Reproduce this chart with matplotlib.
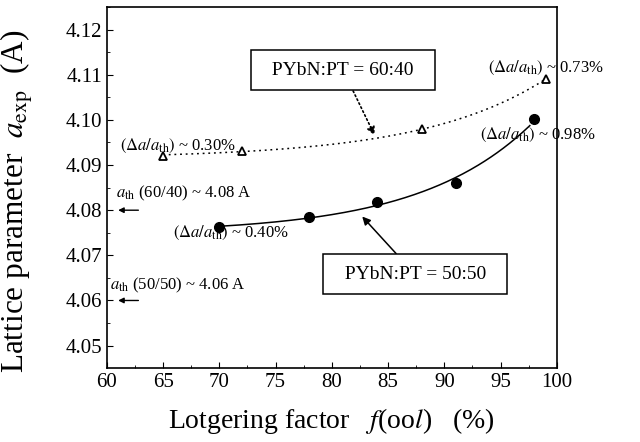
import numpy as np
import matplotlib
matplotlib.use("Agg")
import matplotlib.pyplot as plt

plt.rcParams['font.family'] = ['Liberation Serif', 'DejaVu Serif']
plt.rcParams['mathtext.fontset'] = 'stix'

# PYbN:PT = 50:50 (solid circles)
f_5050 = [70, 78, 84, 91, 98]
a_5050 = [4.0762, 4.0785, 4.0819, 4.0860, 4.1001]

# PYbN:PT = 60:40 (open triangles)
f_6040 = [65, 72, 88, 99]
a_6040 = [4.0921, 4.0931, 4.0980, 4.1090]


def exp_fit(x, y, tau):
    # least squares for y = c0 + c1 * exp((x - 100) / tau)
    x = np.asarray(x, float)
    A = np.column_stack([np.ones_like(x), np.exp((x - 100) / tau)])
    c, *_ = np.linalg.lstsq(A, np.asarray(y), rcond=None)
    return lambda t: c[0] + c[1] * np.exp((t - 100) / tau)


fig = plt.figure(figsize=(6.4, 4.42), dpi=100)
ax = fig.add_axes([0.167, 0.167, 0.703, 0.817])

fit1 = exp_fit(f_5050, a_5050, 10.0)
xs1 = np.linspace(70, 97.6, 200)
ax.plot(xs1, fit1(xs1), color='black', lw=1.1)
fit2 = exp_fit(f_6040, a_6040, 11.0)
xs2 = np.linspace(65, 99, 200)
ax.plot(xs2, fit2(xs2), color='black', lw=1.1, ls=(0, (1.2, 2.5)))

ax.plot(f_5050, a_5050, 'o', color='black', ms=7)
ax.plot(f_6040, a_6040, '^', mfc='white', mec='black', mew=1.3, ms=5.5)

ax.set_xlim(60, 100)
ax.set_ylim(4.045, 4.125)
ax.set_xticks(np.arange(60, 101, 5))
yt = np.arange(4.05, 4.121, 0.01)
ax.set_yticks(yt)
ax.set_yticklabels([f"{v:.2f}" for v in yt])
ax.set_xticks(np.arange(62.5, 100, 5), minor=True)
ax.set_yticks(np.arange(4.055, 4.125, 0.01), minor=True)
ax.tick_params(which='both', direction='in', labelsize=15, top=False, right=False)
ax.tick_params(which='major', length=4)
ax.tick_params(which='minor', length=2)
for s in ax.spines.values():
    s.set_linewidth(1.2)

ax.set_xlabel(r'Lotgering factor   $f$(oo$l$)   (%)', fontsize=20, labelpad=10)
ax.set_ylabel(r'Lattice parameter  $a_{\rm exp}$  (A)', fontsize=22.5)
ax.yaxis.set_label_coords(-0.16, 0.463)

box = dict(boxstyle='square,pad=0.6', fc='white', ec='black', lw=1.1)
ax.annotate('  PYbN:PT = 60:40  ', xy=(83.8, 4.0966), xytext=(81.0, 4.1110),
            fontsize=14, ha='center', va='center', bbox=box,
            arrowprops=dict(arrowstyle='-|>', ls=':', lw=1.2, color='black',
                            shrinkA=0, shrinkB=0, mutation_scale=12))
ax.annotate('  PYbN:PT = 50:50  ', xy=(82.7, 4.0786), xytext=(87.4, 4.0658),
            fontsize=14, ha='center', va='center', bbox=box,
            arrowprops=dict(arrowstyle='-|>', lw=1.1, color='black',
                            shrinkA=0, shrinkB=0, mutation_scale=12))

ds = r'$(\Delta a/a_{\rm th})$'
ax.text(61.2, 4.0943, ds + ' ~ 0.30%', fontsize=12, va='center')
ax.text(93.9, 4.1115, ds + ' ~ 0.73%', fontsize=12, va='center')
ax.text(93.2, 4.0966, ds + ' ~ 0.98%', fontsize=12, va='center')
ax.text(65.9, 4.0750, ds + ' ~ 0.40%', fontsize=12, va='center')
ax.text(60.8, 4.0838, r'$a_{\rm th}$ (60/40) ~ 4.08 A', fontsize=12, va='center')
ax.text(60.3, 4.0634, r'$a_{\rm th}$ (50/50) ~ 4.06 A', fontsize=12, va='center')
for yv in [4.08, 4.06]:
    ax.annotate('', xy=(61.0, yv), xytext=(62.8, yv),
                arrowprops=dict(arrowstyle='-|>', lw=1.0, color='black',
                                shrinkA=0, shrinkB=0, mutation_scale=8))

fig.savefig('out.png', dpi=100)
